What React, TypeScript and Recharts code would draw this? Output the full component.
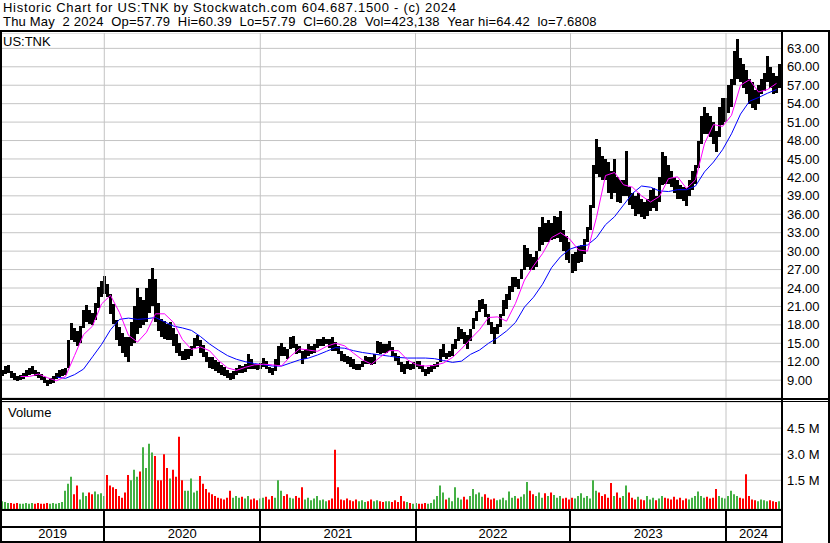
import React from 'react';
import { ComposedChart, Bar, Line, XAxis, YAxis, CartesianGrid, ReferenceLine, Cell } from 'recharts';

const FONT = '"Liberation Sans", Arial, sans-serif';

// each period is one week-wide slot on the time axis (May 2019 .. May 2 2024)
const periodCount = 260;
const yearLabels = ['2019', '2020', '2021', '2022', '2023', '2024'];
// period index where Jan 1 of 2020..2024 falls
const yearStarts = [34.43, 86.43, 138.17, 189.83, 241.67];

const priceTicks = [9, 12, 15, 18, 21, 24, 27, 30, 33, 36, 39, 42, 45, 48, 51, 54, 57, 60, 63];
const volumeTicks = [1.5, 3, 4.5];
const volFloor = -0.15;

// weekly low / high (USD)
const lows = [
  9.7, 10.0, 10.2, 9.4, 9.1, 8.8, 9.0, 9.2, 9.5, 9.8,
  10.0, 9.6, 9.3, 9.0, 8.5, 8.0, 8.3, 8.6, 9.2, 9.5,
  9.7, 9.8, 11.0, 15.5, 15.2, 14.6, 15.0, 17.5, 18.5, 18.2,
  18.0, 18.8, 20.8, 22.5, 23.0, 22.5, 19.7, 18.2, 15.6, 14.5,
  13.4, 12.8, 12.0, 14.5, 15.0, 16.5, 17.5, 18.0, 18.5, 20.0,
  21.0, 18.5, 17.0, 16.0, 15.7, 15.6, 15.5, 14.5, 13.5, 13.0,
  12.3, 12.3, 12.5, 13.0, 14.2, 14.5, 13.5, 12.8, 12.0, 11.0,
  10.8, 10.5, 10.2, 9.9, 9.6, 9.3, 9.0, 9.2, 9.8, 10.2,
  10.2, 10.4, 10.8, 10.8, 10.8, 10.6, 10.8, 11.2, 10.8, 10.1,
  9.9, 10.5, 11.5, 13.0, 13.0, 12.5, 14.1, 14.3, 13.3, 13.5,
  11.6, 12.5, 13.0, 13.3, 13.5, 14.3, 14.6, 14.6, 14.9, 14.3,
  13.8, 13.8, 13.3, 12.2, 11.9, 11.6, 11.1, 10.8, 10.6, 10.6,
  11.1, 11.6, 11.6, 11.4, 11.6, 13.5, 13.3, 13.5, 13.5, 13.8,
  13.0, 12.2, 11.4, 10.3, 10.0, 10.8, 10.6, 10.8, 11.1, 10.8,
  10.3, 9.7, 10.0, 10.3, 10.8, 11.1, 11.9, 12.7, 12.5, 12.7,
  13.0, 14.1, 15.4, 15.7, 14.9, 14.1, 15.4, 17.3, 18.7, 20.1,
  20.6, 19.3, 17.9, 16.5, 14.9, 16.5, 17.6, 19.5, 20.6, 22.0,
  23.3, 24.1, 23.9, 25.5, 27.0, 27.5, 27.0, 27.0, 27.5, 30.0,
  31.0, 31.5, 31.5, 31.8, 32.0, 32.2, 31.5, 30.0, 28.6, 28.0,
  26.5, 26.8, 28.0, 28.3, 29.5, 31.5, 33.5, 37.0, 42.5, 42.0,
  41.5, 41.5, 39.5, 38.5, 39.5, 38.0, 37.9, 39.0, 39.0, 37.5,
  36.8, 35.8, 36.0, 35.5, 35.2, 35.8, 36.5, 37.0, 36.5, 38.0,
  40.8, 41.0, 41.0, 40.5, 39.5, 38.5, 38.5, 38.2, 37.3, 39.0,
  40.0, 41.0, 43.5, 47.5, 49.0, 49.0, 48.5, 47.5, 46.2, 48.5,
  50.5, 51.0, 52.5, 53.5, 57.0, 58.0, 57.5, 56.5, 55.5, 54.0,
  53.3, 53.0, 54.0, 55.5, 56.0, 57.5, 56.5, 55.5, 55.8, 56.5,
];

const highs = [
  10.6, 11.3, 11.5, 10.5, 10.1, 9.7, 9.9, 10.2, 10.6, 11.0,
  11.3, 10.6, 10.3, 10.0, 9.5, 9.0, 9.4, 9.6, 10.2, 10.7,
  10.9, 11.0, 15.5, 18.3, 17.5, 17.0, 17.8, 20.5, 21.2, 20.5,
  20.0, 21.5, 24.1, 25.1, 25.9, 24.7, 23.0, 21.4, 18.8, 17.7,
  16.7, 16.1, 16.0, 18.5, 21.0, 24.0, 22.5, 22.0, 24.0, 25.5,
  27.2, 25.5, 21.5, 19.0, 18.7, 18.2, 18.5, 17.5, 16.5, 15.0,
  13.8, 14.0, 14.0, 14.5, 15.8, 16.3, 15.5, 14.8, 13.6, 12.8,
  12.8, 12.3, 11.9, 11.5, 11.2, 10.7, 10.2, 10.5, 11.0, 11.5,
  11.3, 11.6, 13.2, 12.5, 11.7, 11.6, 11.8, 12.6, 12.2, 11.2,
  11.0, 12.5, 14.5, 15.1, 14.4, 14.1, 16.0, 16.2, 14.9, 14.6,
  13.8, 14.1, 14.9, 14.6, 14.9, 15.7, 15.7, 16.0, 15.7, 15.7,
  16.1, 15.2, 14.6, 13.8, 13.3, 13.0, 12.7, 12.5, 11.7, 11.7,
  12.2, 13.0, 12.7, 12.7, 13.3, 15.4, 15.2, 14.9, 14.9, 15.4,
  14.4, 13.5, 13.0, 11.9, 11.6, 12.2, 11.6, 11.9, 12.2, 12.2,
  11.4, 10.8, 11.1, 11.4, 11.6, 11.9, 14.1, 14.9, 13.5, 13.8,
  14.9, 15.7, 17.6, 17.3, 16.8, 16.3, 17.3, 19.2, 20.3, 22.0,
  22.2, 21.4, 19.8, 18.4, 17.6, 18.2, 19.8, 22.0, 23.1, 24.4,
  25.8, 25.8, 25.5, 27.1, 31.0, 30.5, 29.5, 29.0, 30.0, 34.0,
  35.6, 34.5, 35.0, 34.5, 35.7, 35.5, 36.5, 33.5, 32.5, 31.5,
  29.5, 29.8, 30.8, 31.0, 32.0, 34.0, 37.5, 44.0, 48.2, 47.0,
  45.5, 45.0, 44.5, 43.0, 45.0, 42.0, 41.5, 41.5, 46.3, 40.5,
  39.5, 39.0, 39.5, 38.5, 38.0, 38.5, 40.0, 40.2, 39.0, 42.0,
  46.2, 45.5, 44.0, 43.0, 42.0, 41.5, 40.8, 40.5, 40.2, 41.5,
  43.0, 44.0, 48.0, 52.0, 53.5, 52.5, 52.0, 51.0, 49.5, 53.5,
  55.0, 55.0, 57.0, 58.0, 62.5, 64.6, 61.5, 60.5, 59.5, 58.0,
  57.5, 56.3, 57.0, 58.0, 59.0, 61.8, 60.0, 59.0, 58.5, 60.4,
];

// weekly volume, millions of shares
const volumes = [
  0.3, 0.25, 0.2, 0.2, 0.15, 0.2, 0.15, 0.15, 0.2, 0.15,
  0.2, 0.15, 0.2, 0.15, 0.15, 0.2, 0.15, 0.2, 0.15, 0.2,
  0.25, 0.9, 1.3, 1.7, 0.7, 1.2, 0.4, 0.8, 0.6, 0.8,
  0.7, 0.85, 0.7, 0.75, 0.6, 1.8, 1.2, 1.1, 1.0, 0.6,
  0.5, 0.8, 1.8, 1.5, 2.1, 1.7, 2.0, 3.4, 2.2, 3.6,
  3.1, 2.9, 1.5, 1.5, 3.0, 2.2, 1.6, 2.1, 1.7, 4.0,
  1.5, 0.9, 0.9, 1.6, 0.8, 0.9, 1.75, 1.3, 1.0, 0.8,
  0.7, 0.6, 0.5, 0.45, 0.4, 0.5, 0.9, 0.5, 0.6, 0.5,
  0.55, 0.45, 0.6, 0.4, 0.45, 0.35, 0.45, 0.5, 0.55, 0.4,
  0.6, 0.5, 1.5, 0.9, 0.6, 0.7, 0.5, 0.45, 0.6, 0.5,
  1.1, 0.4, 0.5, 0.35, 0.45, 0.6, 0.35, 0.4, 0.3, 0.35,
  0.45, 3.25, 1.1, 0.4, 0.35, 0.45, 0.35, 0.3, 0.4, 0.3,
  0.35, 0.25, 0.3, 0.4, 0.3, 0.35, 0.3, 0.25, 0.3, 0.3,
  0.25, 0.35, 0.25, 0.6, 0.3, 0.25, 0.2, 0.15, 0.2, 0.15,
  0.15, 0.2, 0.15, 0.2, 0.4, 0.6, 1.2, 0.8, 0.4, 0.5,
  0.3, 1.1, 0.5, 0.4, 0.55, 0.4, 0.6, 1.0, 0.7, 0.8,
  0.55, 0.7, 0.5, 0.4, 0.45, 0.35, 0.4, 0.5, 0.35, 0.85,
  0.5, 0.6, 0.45, 0.55, 0.7, 1.4, 0.9, 0.7, 0.6, 0.8,
  0.5, 0.75, 0.6, 0.8, 0.65, 0.5, 0.6, 0.45, 0.5, 0.4,
  0.5, 0.45, 0.6, 0.75, 0.5, 0.6, 0.45, 1.5, 0.9, 0.8,
  0.6, 0.7, 0.5, 1.35, 0.6, 0.8, 0.5, 0.6, 1.2, 0.8,
  0.5, 0.4, 0.55, 0.4, 0.35, 0.6, 0.4, 0.5, 0.35, 0.45,
  0.6, 0.5, 0.45, 0.4, 0.55, 0.4, 0.5, 0.35, 0.45, 0.4,
  0.5, 0.6, 0.85, 0.6, 0.5, 0.55, 0.45, 0.5, 1.0, 0.6,
  0.5, 0.45, 0.6, 0.9, 0.7, 0.6, 0.5, 0.45, 1.85, 0.6,
  0.4, 0.35, 0.3, 0.4, 0.35, 0.3, 0.35, 0.3, 0.25, 0.3,
];

// moving averages, read every 3rd period
const maStep = 3;
const fastStart = 6;
const fastMa = [
  9.6, 9.6, 10.0, 9.4, 8.9, 9.6, 13.0, 16.4, 17.8, 21.4,
  22.8, 20.0, 16.3, 15.2, 16.8, 19.8, 19.8, 18.4, 15.6, 14.0,
  14.4, 13.8, 12.2, 11.0, 10.6, 11.1, 11.5, 11.6, 11.5, 11.3,
  12.9, 14.1, 13.9, 13.7, 14.5, 15.0, 14.6, 13.4, 12.3, 11.6,
  12.8, 13.8, 13.8, 12.3, 11.5, 11.3, 11.4, 11.8, 12.7, 14.1,
  15.7, 17.2, 19.2, 19.3, 18.6, 21.5, 25.3, 27.6, 29.6, 32.2,
  33.0, 32.0, 30.2, 30.0, 35.5, 42.3, 42.8, 40.8, 40.4, 39.0,
  38.0, 38.9, 41.8, 42.1, 40.2, 41.6, 47.5, 50.6, 50.3, 52.1,
  57.0, 57.9, 55.9, 56.3, 57.3,
];
const slowStart = 18;
const slowMa = [
  9.5, 9.3, 9.9, 10.8, 12.8, 14.8, 17.2, 18.9, 19.1, 18.9,
  19.0, 19.2, 18.5, 17.8, 17.5, 17.1, 16.1, 14.9, 13.9, 13.0,
  12.4, 12.0, 11.7, 11.5, 11.3, 11.3, 11.8, 12.3, 12.6, 13.1,
  13.7, 14.3, 14.2, 13.8, 13.5, 13.3, 13.1, 12.9, 12.7, 12.6,
  12.6, 12.6, 12.5, 12.2, 11.9, 12.1, 13.2, 13.9, 15.0, 15.9,
  17.0, 18.4, 20.9, 22.5, 24.6, 27.3, 29.1, 30.3, 30.8, 31.0,
  32.2, 34.3, 35.6, 37.5, 39.4, 40.6, 40.4, 39.8, 39.7, 40.0,
  40.0, 40.6, 42.9, 44.5, 46.5, 49.1, 52.3, 54.4, 55.0, 55.7,
  56.3,
];

const maAt = (arr: number[], start: number, i: number) =>
  i >= start && (i - start) % maStep === 0 ? arr[(i - start) / maStep] ?? null : null;

const rows = lows.map((lo, i) => ({
  t: i + 0.5,
  range: [lo, highs[i]],
  vol: [volFloor, volumes[i]],
  up: i === 0 || lo + highs[i] >= lows[i - 1] + highs[i - 1],
  fast: maAt(fastMa, fastStart, i),
  slow: maAt(slowMa, slowStart, i),
}));

const GRID = '#c4c4c4';
const W = 830;
const PLOT_W = 780;
const px = (t: number) => 1 + (t / periodCount) * PLOT_W;

const tickStyle = { fill: '#000', fontSize: 13, fontFamily: FONT };

function Rule({ l, t, w, h }: { l: number; t: number; w: number; h: number }) {
  return <div style={{ position: 'absolute', left: l, top: t, width: w, height: h, background: '#000' }} />;
}

// solid weekly range bar, widened slightly so neighbouring weeks touch
const RangeShape = (p: any) => {
  const y = Math.min(p.y, p.y + p.height);
  const h = Math.max(Math.abs(p.height), 1);
  return <rect x={p.x - 0.5} y={y} width={p.width + 1} height={h} fill="#000" shapeRendering="crispEdges" />;
};

export default function App() {
  const text = { position: 'absolute' as const, fontFamily: FONT, fontSize: 13, color: '#000', whiteSpace: 'pre' as const, lineHeight: '14px' };
  return (
    <div style={{ position: 'absolute', left: 0, top: 0, width: W, height: 543, background: '#fff', overflow: 'hidden' }}>
      <div style={{ ...text, left: 3, top: 1, letterSpacing: 0.7 }}>
        Historic Chart for US:TNK by Stockwatch.com 604.687.1500 - (c) 2024
      </div>
      <div style={{ ...text, left: 3, top: 15, letterSpacing: 0.2 }}>
        {'Thu May  2 2024  Op=57.79  Hi=60.39  Lo=57.79  Cl=60.28  Vol=423,138  Year hi=64.42  lo=7.6808'}
      </div>

      <div style={{ position: 'absolute', left: 0, top: 33 }}>
        <ComposedChart width={W} height={365} data={rows} margin={{ top: 0, right: 0, left: 1, bottom: 0 }}>
          <CartesianGrid vertical={false} stroke={GRID} />
          <XAxis dataKey="t" type="number" domain={[0, periodCount]} hide />
          <YAxis
            orientation="right"
            width={49}
            domain={[6.1, 65.5]}
            ticks={priceTicks}
            interval={0}
            allowDataOverflow
            axisLine={false}
            tickLine={false}
            tickSize={0}
            tickMargin={6}
            tick={tickStyle}
            tickFormatter={(v: number) => v.toFixed(2)}
          />
          {yearStarts.map((y) => (
            <ReferenceLine key={y} x={y} stroke={GRID} />
          ))}
          <Bar dataKey="range" fill="#000" barSize={3} shape={RangeShape} isAnimationActive={false} />
          <Line dataKey="slow" stroke="#0000ff" strokeWidth={1} dot={false} connectNulls isAnimationActive={false} />
          <Line dataKey="fast" stroke="#ff00ff" strokeWidth={1} dot={false} connectNulls isAnimationActive={false} />
        </ComposedChart>
      </div>

      <div style={{ position: 'absolute', left: 0, top: 402 }}>
        <ComposedChart width={W} height={107} data={rows} margin={{ top: 0, right: 0, left: 1, bottom: 0 }}>
          <CartesianGrid vertical={false} stroke={GRID} />
          <XAxis dataKey="t" type="number" domain={[0, periodCount]} hide />
          <YAxis
            orientation="right"
            width={49}
            domain={[volFloor, 6]}
            ticks={volumeTicks}
            interval={0}
            allowDataOverflow
            axisLine={false}
            tickLine={false}
            tickSize={0}
            tickMargin={6}
            tick={tickStyle}
            tickFormatter={(v: number) => `${v.toFixed(1)} M`}
          />
          {yearStarts.map((y) => (
            <ReferenceLine key={y} x={y} stroke={GRID} />
          ))}
          <Bar dataKey="vol" barSize={2} isAnimationActive={false}>
            {rows.map((r, i) => (
              <Cell key={i} fill={r.up ? '#44b044' : '#ff0000'} />
            ))}
          </Bar>
        </ComposedChart>
      </div>

      <div style={{ ...text, left: 3, top: 35 }}>US:TNK</div>
      <div style={{ ...text, left: 8, top: 406 }}>Volume</div>

      {/* frame */}
      <Rule l={0} t={30} w={W} h={2} />
      <Rule l={0} t={30} w={2} h={513} />
      <Rule l={781} t={30} w={2} h={513} />
      <Rule l={828} t={30} w={2} h={513} />
      <Rule l={0} t={398} w={W} h={2} />
      <Rule l={0} t={401} w={W} h={1} />
      <Rule l={0} t={509} w={783} h={2} />
      <Rule l={0} t={526} w={783} h={2} />
      <Rule l={0} t={541} w={783} h={2} />
      {yearStarts.map((y) => (
        <Rule key={y} l={Math.round(px(y)) - 1} t={509} w={2} h={34} />
      ))}
      {yearLabels.map((label, i) => {
        const a = i === 0 ? 1 : px(yearStarts[i - 1]);
        const b = i < yearStarts.length ? px(yearStarts[i]) : 781;
        return (
          <div key={label} style={{ ...text, left: a, width: b - a, top: 527, textAlign: 'center' }}>
            {label}
          </div>
        );
      })}
    </div>
  );
}
